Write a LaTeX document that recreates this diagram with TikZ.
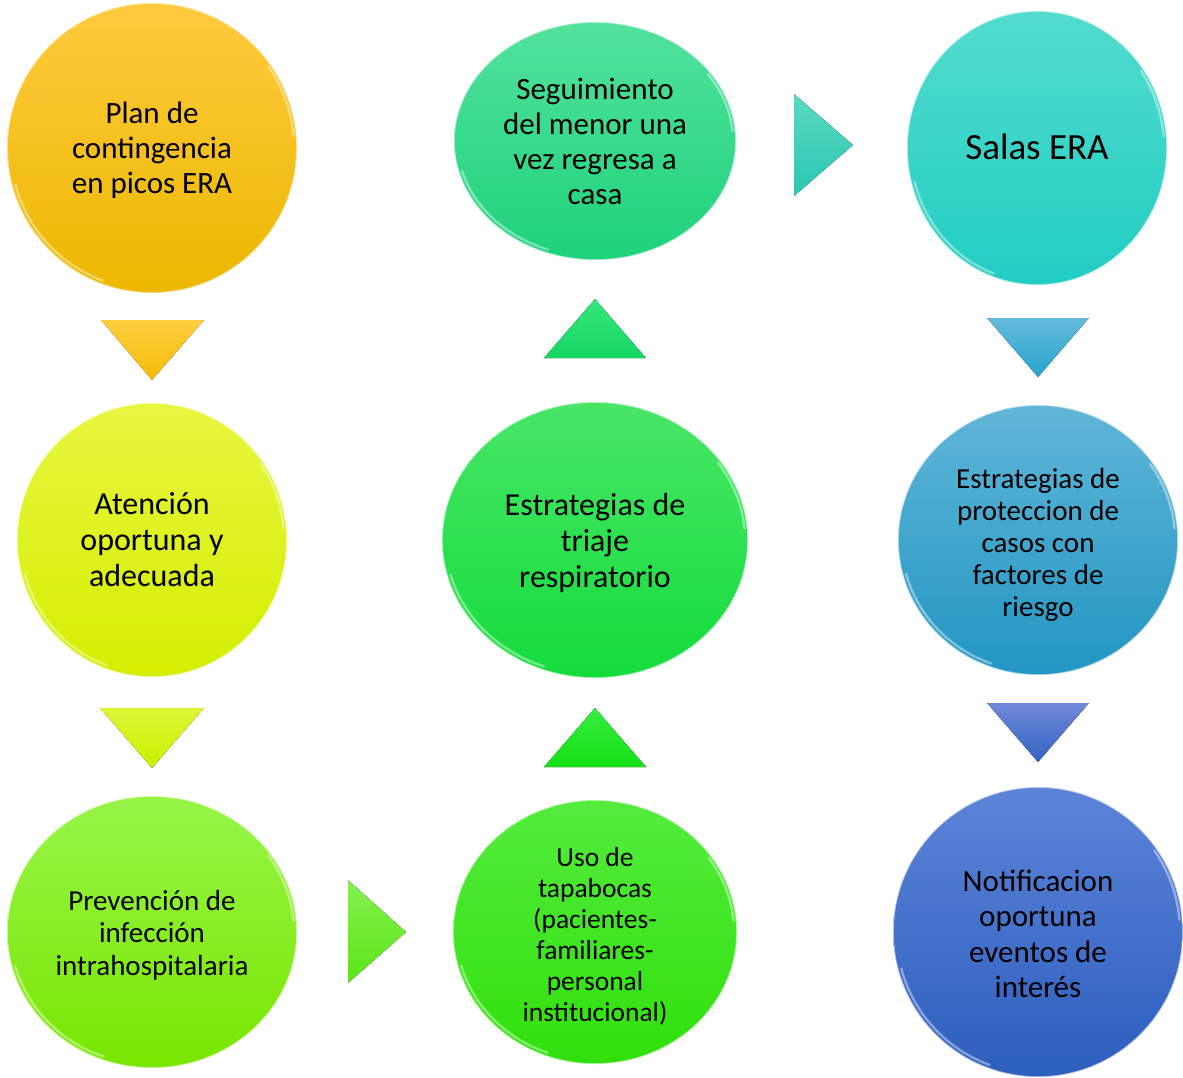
\documentclass[tikz,border=0pt]{standalone}
\usepackage{fontspec}
\setmainfont{Carlito}
\usetikzlibrary{shapes.geometric}
\definecolor{c1t}{RGB}{255,202,62}\definecolor{c1b}{RGB}{236,184,0}
\definecolor{t1t}{RGB}{255,206,64}\definecolor{t1b}{RGB}{244,188,8}
\definecolor{c2t}{RGB}{232,246,64}\definecolor{c2b}{RGB}{212,238,0}
\definecolor{t2t}{RGB}{222,246,54}\definecolor{t2b}{RGB}{200,240,0}
\definecolor{c3t}{RGB}{152,245,72}\definecolor{c3b}{RGB}{120,230,0}
\definecolor{t3t}{RGB}{132,240,80}\definecolor{t3b}{RGB}{90,230,20}
\definecolor{c4t}{RGB}{84,236,62}\definecolor{c4b}{RGB}{48,224,10}
\definecolor{t4t}{RGB}{54,236,62}\definecolor{t4b}{RGB}{20,224,20}
\definecolor{c5t}{RGB}{72,230,102}\definecolor{c5b}{RGB}{20,220,60}
\definecolor{t5t}{RGB}{52,230,122}\definecolor{t5b}{RGB}{22,214,100}
\definecolor{c6t}{RGB}{82,226,156}\definecolor{c6b}{RGB}{30,210,122}
\definecolor{t6t}{RGB}{92,216,192}\definecolor{t6b}{RGB}{40,200,180}
\definecolor{c7t}{RGB}{82,220,206}\definecolor{c7b}{RGB}{34,205,195}
\definecolor{t7t}{RGB}{100,186,220}\definecolor{t7b}{RGB}{40,164,205}
\definecolor{c8t}{RGB}{96,182,216}\definecolor{c8b}{RGB}{34,150,195}
\definecolor{t8t}{RGB}{112,136,216}\definecolor{t8b}{RGB}{50,100,196}
\definecolor{c9t}{RGB}{92,132,216}\definecolor{c9b}{RGB}{44,94,190}
\newcommand{\glint}[3]{% node, rx, ry
  \draw[rimlight] ([shift={(110:{#2-3.5} and {#3-3.5})}]#1.center) arc[start angle=110, end angle=165, x radius=#2-3.5, y radius=#3-3.5];
  \draw[rimlight] ([shift={(-35:{#2-3} and {#3-3})}]#1.center) arc[start angle=-35, end angle=-5, x radius=#2-3, y radius=#3-3];}
\begin{document}
\begin{tikzpicture}[x=1pt,y=-1pt,
  bubble/.style={ellipse, inner sep=0pt, draw=white, draw opacity=0.55, line width=1.6pt},
  rimlight/.style={white, line width=2.4pt, opacity=0.4, line cap=round},
  txt/.style={align=center, text=black, inner sep=0pt},
  tri/.style={draw=none}]
\useasboundingbox (0,0) rectangle (1183,1078);
% bubbles
\node[bubble, minimum width=290pt, minimum height=290pt, top color=c1t, bottom color=c1b] (plan) at (152,148) {};
\node[bubble, minimum width=270pt, minimum height=274pt, top color=c2t, bottom color=c2b] (aten) at (152,540) {};
\node[bubble, minimum width=290pt, minimum height=272pt, top color=c3t, bottom color=c3b] (prev) at (152,932) {};
\node[bubble, minimum width=284pt, minimum height=264pt, top color=c4t, bottom color=c4b] (uso) at (595,932) {};
\node[bubble, minimum width=306pt, minimum height=276pt, top color=c5t, bottom color=c5b] (triaje) at (595,540) {};
\node[bubble, minimum width=282pt, minimum height=238pt, top color=c6t, bottom color=c6b] (seg) at (595,141) {};
\node[bubble, minimum width=260pt, minimum height=274pt, top color=c7t, bottom color=c7b] (salas) at (1037,148) {};
\node[bubble, minimum width=280pt, minimum height=270pt, top color=c8t, bottom color=c8b] (prot) at (1038,540) {};
\node[bubble, minimum width=290pt, minimum height=290pt, top color=c9t, bottom color=c9b] (notif) at (1038,932) {};
% glossy rim highlights
\glint{plan}{145}{145}
\glint{aten}{135}{137}
\glint{prev}{145}{136}
\glint{uso}{142}{132}
\glint{triaje}{153}{138}
\glint{seg}{141}{119}
\glint{salas}{130}{137}
\glint{prot}{140}{135}
\glint{notif}{145}{145}
% texts
\node[txt, font=\fontsize{31}{35}\selectfont] (plan-t) at ([yshift=-2pt]plan.center) {Plan de\\contingencia\\en picos ERA};
\node[txt, font=\fontsize{32}{36}\selectfont] (aten-t) at (aten.center) {Atención\\oportuna y\\adecuada};
\node[txt, font=\fontsize{29}{32.5}\selectfont] (prev-t) at ([yshift=-3pt]prev.center) {Prevención de\\infección\\intrahospitalaria};
\node[txt, font=\fontsize{27.5}{31}\selectfont] (uso-t) at ([yshift=-4pt]uso.center) {Uso de\\tapabocas\\(pacientes-\\familiares-\\personal\\institucional)};
\node[txt, font=\fontsize{32}{36}\selectfont] (triaje-t) at ([yshift=-3pt]triaje.center) {Estrategias de\\triaje\\respiratorio};
\node[txt, font=\fontsize{31}{35}\selectfont] (seg-t) at (seg.center) {Seguimiento\\del menor una\\vez regresa a\\casa};
\node[txt, font=\fontsize{37}{42}\selectfont] (salas-t) at ([yshift=1pt]salas.center) {Salas ERA};
\node[txt, font=\fontsize{29}{32}\selectfont] (prot-t) at ([yshift=-5pt]prot.center) {Estrategias de\\proteccion de\\casos con\\factores de\\riesgo};
\node[txt, font=\fontsize{31}{35.5}\selectfont] (notif-t) at ([yshift=-2pt]notif.center) {Notificacion\\oportuna\\eventos de\\interés};
% arrow triangles
\fill[tri, top color=t1t, bottom color=t1b] (101,320) -- (204,320) -- (152,380) -- cycle;
\fill[tri, top color=t2t, bottom color=t2b] (100,708) -- (204,708) -- (152,768) -- cycle;
\fill[tri, top color=t3t, bottom color=t3b] (348,880) -- (348,983) -- (406,932) -- cycle;
\fill[tri, top color=t4t, bottom color=t4b] (544,767) -- (646,767) -- (595,708) -- cycle;
\fill[tri, top color=t5t, bottom color=t5b] (544,358) -- (646,358) -- (595,299) -- cycle;
\fill[tri, top color=t6t, bottom color=t6b] (794,94) -- (794,196) -- (853,145) -- cycle;
\fill[tri, top color=t7t, bottom color=t7b] (987,318) -- (1089,318) -- (1038,377) -- cycle;
\fill[tri, top color=t8t, bottom color=t8b] (987,703) -- (1089,703) -- (1038,762) -- cycle;
\end{tikzpicture}
\end{document}
